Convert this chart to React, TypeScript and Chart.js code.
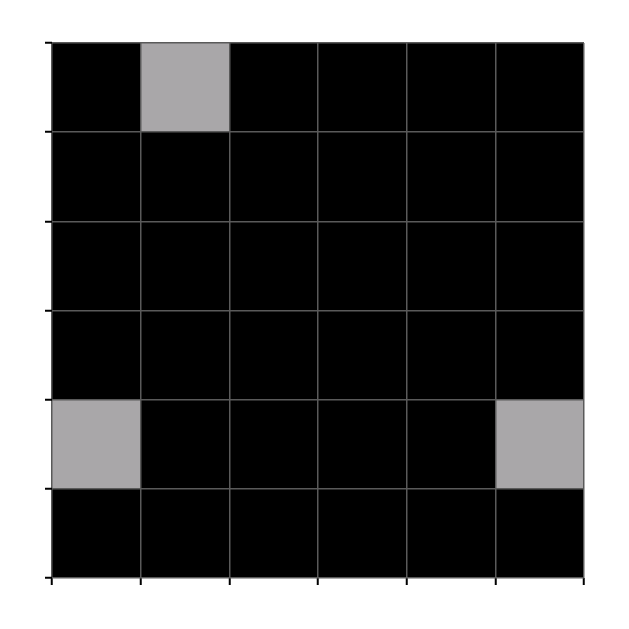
import { useEffect, useRef } from "react";
import { Chart, registerables } from "chart.js";

Chart.register(...registerables);

// 6x6 grid, rows listed top to bottom; 1 = lit (gray) cell, 0 = dark
const cols = ["0", "1", "2", "3", "4", "5"];
const rowsTopToBottom = [
  [0, 1, 0, 0, 0, 0],
  [0, 0, 0, 0, 0, 0],
  [0, 0, 0, 0, 0, 0],
  [0, 0, 0, 0, 0, 0],
  [1, 0, 0, 0, 0, 1],
  [0, 0, 0, 0, 0, 0],
];
const yTicks = [0, 1, 2, 3, 4, 5, 6];

const ON = "#a9a7a9";
const OFF = "#000000";
const GRID = "#5a5a5a";

export default function App() {
  const chartRef = useRef<HTMLCanvasElement | null>(null);

  useEffect(() => {
    if (!chartRef.current) return;
    document.body.style.margin = "0";

    // stacked bars, bottom row first, each one unit tall
    const bottomUp = [...rowsTopToBottom].reverse();
    const datasets = bottomUp.map((row, i) => ({
      label: `row ${i}`,
      data: row.map(() => 1),
      backgroundColor: row.map((v) => (v ? ON : OFF)),
      borderWidth: 0,
      barPercentage: 1,
      categoryPercentage: 1,
    }));

    const chart = new Chart(chartRef.current, {
      type: "bar",
      data: { labels: cols, datasets },
      options: {
        animation: false,
        responsive: true,
        maintainAspectRatio: false,
        layout: { padding: { left: 45, top: 43, right: 45, bottom: 44 } },
        plugins: { legend: { display: false }, tooltip: { enabled: false } },
        scales: {
          x: {
            stacked: true,
            offset: true,
            grid: {
              z: 1,
              offset: true,
              color: GRID,
              lineWidth: 1.5,
              tickLength: 7,
              tickColor: "#000",
              tickWidth: 2,
            },
            border: { display: false },
            ticks: { display: false },
          },
          y: {
            stacked: true,
            min: 0,
            max: 6,
            afterBuildTicks: (scale) => {
              scale.ticks = yTicks.map((v) => ({ value: v }));
            },
            grid: {
              z: 1,
              color: GRID,
              lineWidth: 1.5,
              tickLength: 7,
              tickColor: "#000",
              tickWidth: 2,
            },
            border: { display: false },
            ticks: { display: false },
          },
        },
      },
    });

    return () => chart.destroy();
  }, []);

  return (
    <div style={{ position: "absolute", left: 0, top: 0, width: 629, height: 629 }}>
      <canvas ref={chartRef} />
    </div>
  );
}
